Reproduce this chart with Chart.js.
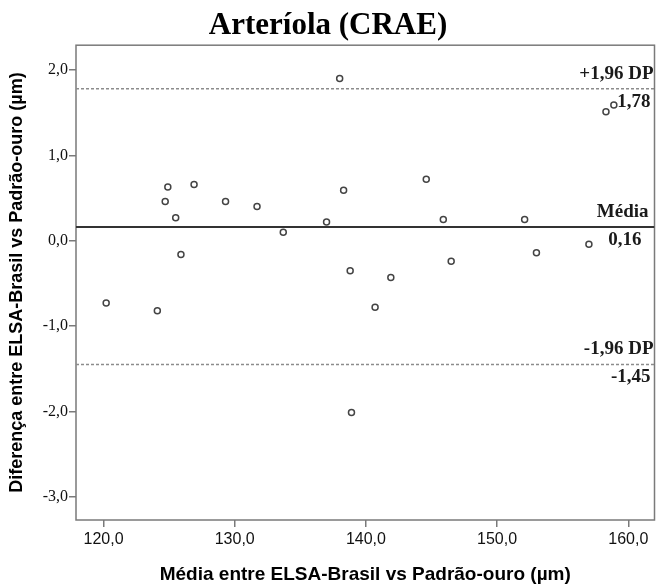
<!DOCTYPE html>
<html>
<head>
<meta charset="utf-8">
<script src="https://cdn.jsdelivr.net/npm/chart.js@4/dist/chart.umd.min.js"></script>
<style>
html,body{margin:0;padding:0;background:#fff;}
#wrap{width:660px;height:587px;position:relative;}
</style>
</head>
<body>
<div id="wrap"><canvas id="c" width="660" height="587"></canvas></div>
<script>
// Data
const meanValues = [120.2,124.1,124.7,124.9,125.5,125.9,126.9,129.3,131.7,133.7,137.0,138.0,138.3,138.8,138.9,140.7,141.9,144.6,145.9,146.5,152.1,153.0,157.0,158.3,158.9];
const diffValues = [-0.73,-0.82,0.46,0.63,0.27,-0.16,0.66,0.46,0.40,0.10,0.22,1.90,0.59,-0.35,-2.01,-0.78,-0.43,0.72,0.25,-0.24,0.25,-0.14,-0.04,1.51,1.59];
const xTicks = [120,130,140,150,160];
const yTicks = [-3,-2,-1,0,1,2];
const xLimits = [117.9, 162.0];
const yLimits = [-3.27, 2.29];
const limitValues = [1.78, 0.16, -1.45];
const limitNames = ['+1,96 DP', 'Média', '-1,96 DP'];
const limitLabels = ['1,78', '0,16', '-1,45'];

const fmt = v => Number(v).toFixed(1).replace('.', ',');

const points = meanValues.map((x, i) => ({x: x, y: diffValues[i]}));
const lineData = v => [{x: xLimits[0], y: v}, {x: xLimits[1], y: v}];

const annotPlugin = {
  id: 'annot',
  beforeDatasetsDraw(chart) {
    const {ctx, chartArea} = chart;
    ctx.save();
    ctx.strokeStyle = '#7a7a7a';
    ctx.lineWidth = 1.5;
    ctx.strokeRect(chartArea.left, chartArea.top, chartArea.right - chartArea.left, chartArea.bottom - chartArea.top);
    ctx.restore();
  },
  afterDatasetsDraw(chart) {
    const {ctx, chartArea, scales} = chart;
    ctx.save();
    ctx.fillStyle = '#1a1a1a';
    ctx.font = 'bold 19px "Liberation Serif", "Times New Roman", serif';
    ctx.textAlign = 'right';
    ctx.textBaseline = 'middle';
    limitValues.forEach((v, i) => {
      const py = scales.y.getPixelForValue(v);
      ctx.fillText(limitNames[i], chartArea.right - (i === 1 ? 6 : 1), py - 15);
      ctx.fillText(limitLabels[i], chartArea.right - (i === 1 ? 13 : 4), py + 13);
    });
    ctx.restore();
  }
};

new Chart(document.getElementById('c'), {
  type: 'scatter',
  data: {
    datasets: [
      {type: 'line', data: lineData(limitValues[0]), borderColor: '#8c8c8c', borderWidth: 1.5, borderDash: [3, 2], pointRadius: 0, fill: false},
      {type: 'line', data: lineData(limitValues[1]), borderColor: '#333333', borderWidth: 2, pointRadius: 0, fill: false},
      {type: 'line', data: lineData(limitValues[2]), borderColor: '#8c8c8c', borderWidth: 1.5, borderDash: [3, 2], pointRadius: 0, fill: false},
      {data: points, pointRadius: 3, pointBorderWidth: 1.5, borderColor: '#444444', backgroundColor: '#ffffff', pointStyle: 'circle'}
    ]
  },
  options: {
    responsive: false,
    animation: false,
    layout: {padding: {left: 0, right: 4, top: 0, bottom: 0}},
    plugins: {
      legend: {display: false},
      tooltip: {enabled: false},
      title: {
        display: true,
        text: 'Arteríola (CRAE)',
        color: '#000',
        font: {family: '"Liberation Serif", "Times New Roman", serif', size: 31, weight: 'bold'},
        padding: {top: 7, bottom: 1}
      }
    },
    scales: {
      x: {
        type: 'linear',
        min: xLimits[0],
        max: xLimits[1],
        afterBuildTicks: s => { s.ticks = xTicks.map(v => ({value: v})); },
        afterFit: s => { s.height = 67; },
        border: {display: false},
        grid: {display: true, drawOnChartArea: false, drawTicks: true, tickLength: 7, tickColor: '#7a7a7a', lineWidth: 1.5},
        ticks: {callback: v => fmt(v), color: '#111', font: {family: '"Liberation Sans", Arial, sans-serif', size: 16}, padding: 3, maxRotation: 0},
        title: {display: true, text: 'Média entre ELSA-Brasil vs Padrão-ouro (µm)', color: '#000', font: {family: '"Liberation Sans", Arial, sans-serif', size: 19, weight: 'bold'}, padding: {top: 0, bottom: 1}}
      },
      y: {
        type: 'linear',
        min: yLimits[0],
        max: yLimits[1],
        afterBuildTicks: s => { s.ticks = yTicks.map(v => ({value: v})); },
        afterFit: s => { s.width = 76; },
        border: {display: false},
        grid: {display: true, drawOnChartArea: false, drawTicks: true, tickLength: 7, tickColor: '#7a7a7a', lineWidth: 1.5},
        ticks: {callback: v => fmt(v), color: '#111', font: {family: '"Liberation Serif", "Times New Roman", serif', size: 16}, padding: 1},
        title: {display: true, text: 'Diferença entre ELSA-Brasil vs Padrão-ouro (µm)', color: '#000', font: {family: '"Liberation Sans", Arial, sans-serif', size: 18, weight: 'bold'}, padding: {top: 6, bottom: 0}}
      }
    }
  },
  plugins: [annotPlugin]
});
</script>
</body>
</html>
